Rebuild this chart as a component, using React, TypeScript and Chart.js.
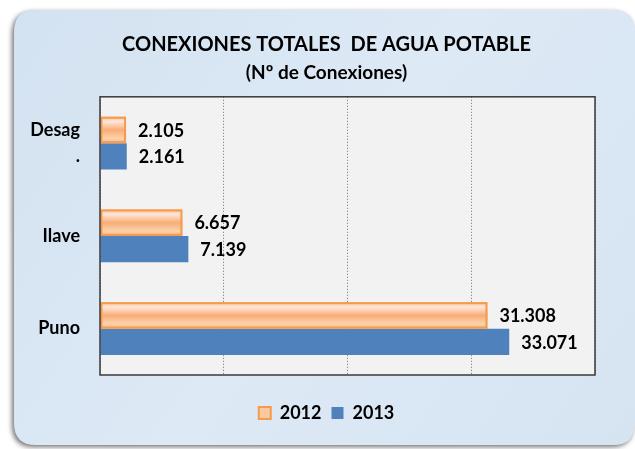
import React, { useEffect, useRef } from "react";
import { Chart, registerables } from "chart.js";

Chart.register(...registerables);

const categories: (string | string[])[] = [["Desag", "."], "Ilave", "Puno"];
const seriesNames = ["2012", "2013"];
const values2012 = [2105, 6657, 31308];
const values2013 = [2161, 7139, 33071];
const axisMax = 40000;
const axisStep = 10000;
const titleText = "CONEXIONES TOTALES  DE AGUA POTABLE";
const subtitleText = "(Nº de Conexiones)";

const FONT = "Lato, 'Open Sans', sans-serif";

function fmt(v: number): string {
  const s = String(Math.round(v));
  return s.replace(/\B(?=(\d{3})+(?!\d))/g, ".");
}

function roundRect(ctx: CanvasRenderingContext2D, x: number, y: number, w: number, h: number, r: number) {
  ctx.beginPath();
  ctx.moveTo(x + r, y);
  ctx.lineTo(x + w - r, y);
  ctx.quadraticCurveTo(x + w, y, x + w, y + r);
  ctx.lineTo(x + w, y + h - r);
  ctx.quadraticCurveTo(x + w, y + h, x + w - r, y + h);
  ctx.lineTo(x + r, y + h);
  ctx.quadraticCurveTo(x, y + h, x, y + h - r);
  ctx.lineTo(x, y + r);
  ctx.quadraticCurveTo(x, y, x + r, y);
  ctx.closePath();
}

const framePlugin = {
  id: "frame",
  beforeDraw(chart: any) {
    const ctx = chart.ctx as CanvasRenderingContext2D;
    const W = chart.width;
    const H = chart.height;
    ctx.save();
    ctx.fillStyle = "#ffffff";
    ctx.fillRect(0, 0, W, H);
    ctx.shadowColor = "rgba(0,0,0,0.55)";
    ctx.shadowBlur = 5;
    ctx.shadowOffsetX = -2;
    ctx.shadowOffsetY = 2;
    roundRect(ctx, 14, 10, W - 14, H - 14, 22);
    const g = ctx.createLinearGradient(0, 10, W, H);
    g.addColorStop(0, "#d3e2f1");
    g.addColorStop(0.5, "#dde9f5");
    g.addColorStop(1, "#d6e4f2");
    ctx.fillStyle = g;
    ctx.fill();
    ctx.restore();
    const a = chart.chartArea;
    ctx.save();
    ctx.fillStyle = "#f2f2f2";
    ctx.fillRect(a.left, a.top, a.right - a.left, a.bottom - a.top);
    ctx.restore();
  },
  afterDatasetsDraw(chart: any) {
    const ctx = chart.ctx as CanvasRenderingContext2D;
    const a = chart.chartArea;
    const meta0 = chart.getDatasetMeta(0);
    meta0.data.forEach((el: any) => {
      const p = el.getProps(["x", "y", "base", "height"], true);
      const top = p.y - p.height / 2;
      const bot = p.y + p.height / 2;
      const left = Math.min(p.base, p.x);
      const right = Math.max(p.base, p.x);
      const g = ctx.createLinearGradient(0, top, 0, bot);
      g.addColorStop(0, "#f9c090");
      g.addColorStop(0.18, "#ffe6dc");
      g.addColorStop(0.5, "#f8ad76");
      g.addColorStop(0.82, "#fcd2ac");
      g.addColorStop(1, "#f9b47c");
      ctx.save();
      ctx.fillStyle = g;
      ctx.fillRect(left, top, right - left, bot - top);
      ctx.strokeStyle = "#f59b4c";
      ctx.lineWidth = 2;
      ctx.strokeRect(left + 1, top + 1, right - left - 2, bot - top - 2);
      ctx.restore();
    });
    ctx.save();
    ctx.strokeStyle = "#3a3a3a";
    ctx.lineWidth = 1.5;
    ctx.strokeRect(a.left, a.top, a.right - a.left, a.bottom - a.top);
    ctx.restore();
    ctx.save();
    ctx.font = `bold 18px ${FONT}`;
    ctx.fillStyle = "#000000";
    ctx.textAlign = "left";
    ctx.textBaseline = "middle";
    chart.data.datasets.forEach((ds: any, di: number) => {
      const meta = chart.getDatasetMeta(di);
      meta.data.forEach((el: any, i: number) => {
        const p = el.getProps(["x", "y"], true);
        ctx.fillText(fmt(ds.data[i]), p.x + 12, p.y + 1);
      });
    });
    ctx.restore();
  },
};

export default function App() {
  const ref = useRef<HTMLCanvasElement | null>(null);
  useEffect(() => {
    if (!ref.current) return;
    const chart = new Chart(ref.current, {
      type: "bar",
      data: {
        labels: categories as any,
        datasets: [
          {
            label: seriesNames[0],
            data: values2012,
            backgroundColor: "#fbc9a0",
            borderColor: "#f59b4c",
            borderWidth: 2,
            categoryPercentage: 0.57,
            barPercentage: 1.0,
          },
          {
            label: seriesNames[1],
            data: values2013,
            backgroundColor: "#4f81bd",
            borderColor: "#4f81bd",
            borderWidth: 0,
            categoryPercentage: 0.57,
            barPercentage: 1.0,
          },
        ],
      },
      options: {
        indexAxis: "y",
        animation: false,
        responsive: false,
        maintainAspectRatio: false,
        layout: { padding: { left: 18, right: 0, top: 0, bottom: 17 } },
        scales: {
          x: {
            min: 0,
            max: axisMax,
            afterFit: (s: any) => {
              s.height = 19;
            },
            ticks: { display: false, stepSize: axisStep },
            grid: {
              display: true,
              drawTicks: false,
              color: "#707070",
              lineWidth: 1,
            },
            border: { display: false, dash: [1, 2] },
          },
          y: {
            position: "left",
            afterFit: (s: any) => {
              s.width = 82;
            },
            grid: { display: false, drawTicks: false },
            border: { display: false },
            ticks: {
              padding: 20,
              color: "#000000",
              font: { family: FONT, size: 18, weight: "bold", lineHeight: 1.45 },
            },
          },
          y2: {
            position: "right",
            type: "category",
            labels: categories as any,
            afterFit: (s: any) => {
              s.width = 40;
            },
            grid: { display: false, drawTicks: false },
            border: { display: false },
            ticks: { display: false },
          },
        },
        plugins: {
          title: {
            display: true,
            text: titleText,
            color: "#000000",
            font: { family: FONT, size: 20, weight: "bold", lineHeight: 1.2 },
            padding: { top: 33, bottom: 4 },
          },
          subtitle: {
            display: true,
            text: subtitleText,
            color: "#000000",
            font: { family: FONT, size: 19, weight: "bold", lineHeight: 1.2 },
            padding: { top: 0, bottom: 13 },
          },
          legend: {
            display: true,
            position: "bottom",
            labels: {
              color: "#000000",
              font: { family: FONT, size: 18, weight: "bold" },
              boxWidth: 12,
              boxHeight: 12,
              padding: 10,
            },
          },
          tooltip: { enabled: false },
        },
      } as any,
      plugins: [framePlugin],
    });
    return () => chart.destroy();
  }, []);
  return (
    <div style={{ position: "fixed", left: 0, top: 0, width: 635, height: 449 }}>
      <canvas ref={ref} width={635} height={449} style={{ width: 635, height: 449, display: "block" }} />
    </div>
  );
}
